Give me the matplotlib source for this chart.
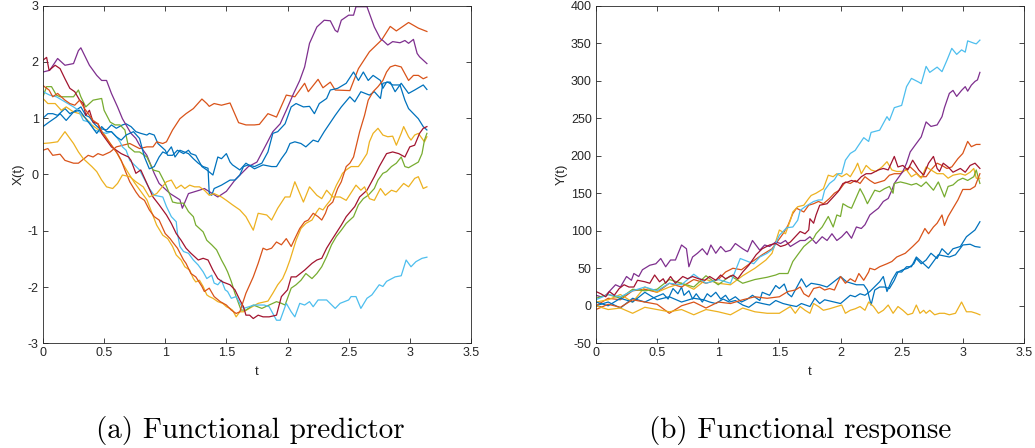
"""Two panels: functional predictor X(t) and functional response Y(t)."""
import matplotlib
matplotlib.use('Agg')
import matplotlib.pyplot as plt

plt.rcParams['axes.unicode_minus'] = False
plt.rcParams['font.family'] = ['Liberation Sans', 'DejaVu Sans']

# ---------------- (a) functional predictor X(t) ----------------
xt_blue1 = [0, .04, .08, .12, .18, .22, .27, .31, .35, .38, .42, .46, .52, .56, .6, .65, .68, .72, .76, .8,
            .85, .87, .91, .94, 1.0, 1.02, 1.06, 1.1, 1.15, 1.19, 1.21, 1.25, 1.3, 1.34, 1.39, 1.43, 1.46, 1.5,
            1.53, 1.55, 1.61, 1.66, 1.73, 1.8, 1.87, 1.91, 1.95, 1.99, 2.02, 2.06, 2.11, 2.15, 2.21, 2.25, 2.3,
            2.39, 2.44, 2.51, 2.55, 2.6, 2.67, 2.71, 2.76, 2.78, 2.82, 2.86, 2.92, 2.96, 2.99, 3.07, 3.11, 3.14]
x_blue1 = [1.0, 1.08, 1.08, 1.05, 1.17, 1.08, 1.14, 1.2, 1.05, 1.02, .9, .82, .79, .88, .82, .88, .9, .85, .76, .73,
           .7, .73, .7, .55, .43, .34, .34, .43, .37, .43, .37, .34, .14, .08, -.01, .31, .28, .37,
           .22, .17, .08, .2, .1, .17, .14, .14, .28, .4, .55, .58, .55, .49, .61, .58, .76,
           1.05, 1.2, 1.38, 1.29, 1.47, 1.41, 1.47, 1.35, 1.62, 1.64, 1.59, 1.59, 1.32, 1.17, .99, .85, .79]

xt_orange1 = [0, .04, .08, .14, .18, .25, .29, .33, .37, .41, .45, .49, .55, .6, .71, .79, .85, .9, .93, .98,
              1.01, 1.06, 1.12, 1.17, 1.23, 1.3, 1.34, 1.36, 1.4, 1.46, 1.53, 1.6, 1.66, 1.73, 1.77, 1.84, 1.91,
              1.99, 2.06, 2.14, 2.17, 2.25, 2.29, 2.35, 2.39, 2.51, 2.58, 2.67, 2.77, 2.84, 2.89, 2.99, 3.07, 3.14]
x_orange1 = [.43, .46, .34, .36, .25, .2, .2, .27, .34, .31, .37, .34, .4, .49, .55, .46, .49, .49, .58, .55,
             .58, .79, .99, 1.08, 1.17, 1.34, 1.26, 1.21, 1.26, 1.23, 1.27, .92, .88, .88, .89, 1.08, 1.02,
             1.41, 1.38, 1.62, 1.47, 1.69, 1.54, 1.64, 1.5, 1.49, 1.88, 2.18, 2.39, 2.63, 2.55, 2.7, 2.6, 2.54]

xt_yellow1 = [0, .04, .1, .15, .19, .25, .3, .35, .4, .45, .5, .55, .6, .65, .7, .75, .8, .85, .93, .98,
              1.02, 1.06, 1.09, 1.13, 1.16, 1.2, 1.23, 1.25, 1.28, 1.31, 1.34, 1.36, 1.39, 1.43, 1.47, 1.5, 1.53,
              1.55, 1.58, 1.61, 1.64, 1.76, 1.84, 1.88, 1.92, 1.96, 1.99, 2.02, 2.05, 2.07, 2.11, 2.15, 2.2, 2.24,
              2.26, 2.29, 2.32, 2.35, 2.37, 2.4, 2.43, 2.45, 2.48, 2.52, 2.58, 2.6, 2.65, 2.67, 2.7, 2.74, 2.78,
              2.82, 2.86, 2.89, 2.93, 2.95, 2.99, 3.01, 3.04, 3.07, 3.1, 3.12, 3.14]
x_yellow1 = [1.35, 1.26, 1.26, 1.14, 1.2, 1.11, 1.08, 1.0, .88, .8, .72, .55, .4, .2, .02, -.15, -.3, -.45, -.9, -1.08,
             -1.14, -1.28, -1.43, -1.52, -1.64, -1.7, -1.85, -1.91, -1.88, -1.99, -2.14, -2.17, -2.2, -2.26, -2.29,
             -2.35, -2.38, -2.41, -2.53, -2.44, -2.44, -2.29, -2.25, -2.11, -1.96, -1.85, -1.7, -1.52, -1.31, -1.17,
             -.96, -.87, -.81, -.66, -.6, -.63, -.54, -.46, -.34, -.19, -.07, .02, .08, .14, .14, .2, .37, .58, .73,
             .82, .7, .67, .68, .52, .73, .85, .67, .61, .7, .73, .64, .58, .67]

xt_purple = [0, .055, .12, .18, .25, .29, .31, .38, .44, .48, .52, .56, .61, .65, .72, .76, .79, .85, .91, .95,
             1.04, 1.12, 1.14, 1.19, 1.28, 1.32, 1.43, 1.5, 1.57, 1.68, 1.75, 1.83, 1.88, 1.94, 1.99, 2.05, 2.1,
             2.14, 2.18, 2.24, 2.3, 2.35, 2.39, 2.41, 2.44, 2.5, 2.54, 2.56, 2.65, 2.67, 2.71, 2.76, 2.78, 2.82,
             2.86, 2.92, 2.96, 2.99, 3.03, 3.06, 3.08, 3.14]
x_purple = [1.82, 1.85, 2.06, 1.94, 1.97, 2.2, 2.25, 1.94, 1.76, 1.67, 1.67, 1.44, 1.2, .99, .73, .64, .52, .34, .02, -.16,
            -.34, -.45, -.6, -.34, -.28, -.25, -.4, -.3, -.1, .14, .22, .55, .76, .9, 1.14, 1.44, 1.67,
            1.91, 2.33, 2.62, 2.74, 2.73, 2.56, 2.53, 2.74, 2.83, 2.83, 2.98, 2.98, 2.86, 2.62, 2.41, 2.38, 2.3,
            2.36, 2.34, 2.38, 2.33, 2.4, 2.15, 2.09, 1.97]

xt_green = [0, .03, .07, .11, .14, .18, .25, .29, .31, .35, .41, .48, .5, .55, .59, .63, .67, .7, .75, .79,
            .85, .9, .95, 1.0, 1.04, 1.06, 1.1, 1.15, 1.19, 1.23, 1.25, 1.31, 1.34, 1.38, 1.42, 1.46, 1.49, 1.51,
            1.54, 1.57, 1.6, 1.62, 1.66, 1.72, 1.79, 1.85, 1.91, 1.95, 1.98, 2.0, 2.03, 2.07, 2.11, 2.15, 2.2,
            2.24, 2.28, 2.32, 2.36, 2.4, 2.44, 2.48, 2.54, 2.58, 2.62, 2.66, 2.71, 2.74, 2.78, 2.81, 2.85, 2.89,
            2.93, 2.96, 2.99, 3.03, 3.07, 3.1, 3.12, 3.14]
x_green = [1.38, 1.56, 1.56, 1.41, 1.38, 1.38, 1.38, 1.5, 1.38, 1.2, 1.32, 1.35, 1.14, .93, .88, .88, .79, .49, .4, .4,
           .31, .08, .05, -.16, -.37, -.49, -.51, -.51, -.66, -.75, -.9, -1.02, -1.17, -1.25, -1.34, -1.52, -1.64,
           -1.73, -1.9, -2.11, -2.29, -2.41, -2.41, -2.32, -2.38, -2.32, -2.26, -2.29, -2.32, -2.2, -2.02, -1.96,
           -1.88, -1.76, -1.85, -1.76, -1.64, -1.46, -1.25, -1.1, -.99, -.87, -.75, -.54, -.43, -.37, -.25, -.1,
           .02, .05, .14, .2, .31, .14, .12, .17, .22, .37, .61, .73]

xt_lblue = [0, .055, .11, .18, .25, .29, .33, .38, .42, .46, .52, .56, .6, .63, .65, .68, .71, .79, .87, .91,
            .98, 1.01, 1.05, 1.09, 1.1, 1.12, 1.15, 1.19, 1.23, 1.27, 1.31, 1.34, 1.38, 1.4, 1.43, 1.46, 1.49,
            1.51, 1.54, 1.58, 1.61, 1.64, 1.73, 1.81, 1.85, 1.91, 1.94, 1.99, 2.03, 2.06, 2.1, 2.14, 2.18, 2.21,
            2.25, 2.32, 2.39, 2.43, 2.5, 2.52, 2.56, 2.6, 2.65, 2.69, 2.75, 2.78, 2.81, 2.88, 2.93, 2.97, 3.01,
            3.05, 3.1, 3.14]
x_lblue = [1.47, 1.41, 1.38, 1.29, 1.2, 1.14, .96, .93, .79, .76, .73, .76, .67, .58, .49, .43, .25, .08, -.25, -.37,
           -.4, -.57, -.75, -.84, -1.05, -1.28, -1.37, -1.4, -1.52, -1.61, -1.73, -1.85, -1.79, -1.93, -1.96, -1.88,
           -2.05, -2.08, -2.2, -2.17, -2.29, -2.38, -2.32, -2.32, -2.35, -2.59, -2.59, -2.29, -2.44, -2.53, -2.29,
           -2.32, -2.26, -2.35, -2.23, -2.23, -2.38, -2.29, -2.23, -2.17, -2.17, -2.38, -2.2, -2.14, -1.96, -1.99,
           -1.9, -1.82, -1.8, -1.52, -1.64, -1.55, -1.49, -1.47]

xt_dred = [0, .03, .05, .1, .14, .18, .22, .26, .3, .33, .35, .38, .41, .45, .48, .52, .56, .6, .64, .7,
           .72, .76, .8, .85, .9, .95, 1.01, 1.05, 1.09, 1.13, 1.17, 1.21, 1.27, 1.31, 1.35, 1.39, 1.43, 1.47,
           1.53, 1.57, 1.61, 1.64, 1.66, 1.69, 1.72, 1.76, 1.8, 1.85, 1.91, 1.95, 2.0, 2.03, 2.07, 2.14, 2.2,
           2.24, 2.28, 2.32, 2.36, 2.44, 2.48, 2.55, 2.59, 2.65, 2.71, 2.75, 2.81, 2.86, 2.91, 2.96, 3.0, 3.04,
           3.08, 3.11, 3.14]
x_dred = [2.03, 2.08, 1.85, 1.94, 1.88, 1.7, 1.53, 1.47, 1.32, 1.26, 1.05, 1.14, .93, .9, .73, .61, .49, .43, .37, .31,
          .25, .02, .08, -.16, -.4, -.54, -.72, -.87, -1.05, -1.17, -1.31, -1.4, -1.52, -1.49, -1.52, -1.7, -1.85,
          -1.91, -1.96, -2.05, -2.23, -2.35, -2.5, -2.5, -2.56, -2.5, -2.53, -2.53, -2.5, -2.17, -2.05, -1.82,
          -1.82, -1.7, -1.58, -1.52, -1.49, -1.31, -1.17, -.9, -.75, -.57, -.4, -.28, -.04, .14, .37, .4, .37,
          .31, .49, .52, .73, .82, .85]

xt_blue2 = [0, .05, .11, .14, .19, .25, .3, .35, .4, .44, .48, .52, .56, .6, .64, .68, .74, .79, .83, .87,
            .91, .95, .98, 1.01, 1.05, 1.08, 1.12, 1.19, 1.23, 1.27, 1.31, 1.35, 1.36, 1.38, 1.4, 1.43, 1.46,
            1.53, 1.57, 1.61, 1.64, 1.68, 1.73, 1.79, 1.84, 1.88, 1.92, 1.98, 2.03, 2.07, 2.13, 2.18, 2.22, 2.26,
            2.32, 2.35, 2.41, 2.48, 2.54, 2.58, 2.62, 2.66, 2.7, 2.76, 2.78, 2.81, 2.84, 2.88, 2.93, 2.99, 3.04,
            3.11, 3.14]
x_blue2 = [.85, .93, 1.02, 1.08, .96, 1.11, 1.14, .99, .85, .73, .85, .76, .76, .67, .61, .7, .76, .64, .31, .1,
           .14, .31, .4, .37, .49, .31, .43, .37, .28, .2, .14, .11, -.34, -.37, -.25, -.22, -.19,
           -.1, -.1, -.01, .14, .17, .14, .2, .4, .73, .76, .9, 1.2, 1.26, 1.2, 1.21, 1.08, 1.26,
           1.35, 1.5, 1.53, 1.62, 1.82, 1.67, 1.82, 1.67, 1.76, 1.67, 1.53, 1.64, 1.64, 1.47, 1.62, 1.44, 1.5,
           1.59, 1.51]

xt_orange2 = [0, .05, .08, .12, .18, .22, .26, .3, .34, .37, .41, .45, .49, .53, .57, .61, .64, .67, .71, .76,
              .79, .83, .87, .91, .95, 1.0, 1.04, 1.06, 1.1, 1.15, 1.17, 1.21, 1.25, 1.3, 1.32, 1.36, 1.4, 1.45,
              1.5, 1.54, 1.58, 1.61, 1.66, 1.72, 1.76, 1.8, 1.83, 1.87, 1.91, 1.95, 1.99, 2.03, 2.06, 2.1, 2.14,
              2.17, 2.21, 2.25, 2.28, 2.31, 2.33, 2.37, 2.41, 2.44, 2.48, 2.51, 2.54, 2.56, 2.59, 2.63, 2.66, 2.7,
              2.74, 2.78, 2.81, 2.84, 2.88, 2.93, 2.99, 3.03, 3.07, 3.11, 3.14]
x_orange2 = [1.58, 1.5, 1.38, 1.44, 1.32, 1.26, 1.23, 1.32, 1.17, 1.08, .96, .9, .73, .61, .49, .37, .25, .08, -.13, -.31,
             -.4, -.46, -.63, -.75, -.81, -1.05, -1.14, -1.2, -1.31, -1.52, -1.58, -1.76, -1.82, -1.99, -2.08, -2.02,
             -2.17, -2.26, -2.32, -2.41, -2.47, -2.44, -2.11, -1.82, -1.58, -1.31, -1.34, -1.31, -1.2, -1.25, -1.14,
             -1.28, -1.14, -.96, -.84, -.81, -.69, -.75, -.81, -.69, -.57, -.49, -.25, -.13, .14, .2, .31, .49, .76,
             1.05, 1.32, 1.47, 1.56, 1.67, 1.82, 1.91, 1.94, 1.91, 1.67, 1.76, 1.76, 1.7, 1.73]

xt_yellow2 = [0, .055, .12, .18, .25, .29, .33, .37, .4, .44, .48, .52, .57, .61, .65, .71, .76, .82, .87, .93,
              1.01, 1.05, 1.09, 1.13, 1.16, 1.2, 1.24, 1.28, 1.32, 1.36, 1.4, 1.46, 1.5, 1.55, 1.61, 1.66, 1.72,
              1.76, 1.83, 1.87, 1.92, 1.98, 2.02, 2.06, 2.13, 2.18, 2.24, 2.28, 2.32, 2.37, 2.43, 2.48, 2.56, 2.6,
              2.63, 2.67, 2.71, 2.76, 2.8, 2.85, 2.89, 2.95, 2.99, 3.04, 3.07, 3.11, 3.14]
x_yellow2 = [.55, .56, .58, .76, .55, .4, .28, .2, .14, .05, -.1, -.22, -.25, -.16, -.01, -.04, -.13, -.22, -.4, -.34,
             -.13, -.1, -.25, -.19, -.25, -.19, -.22, -.22, -.28, -.37, -.34, -.4, -.46, -.54, -.63, -.75, -.99,
             -.69, -.72, -.81, -.6, -.4, -.4, -.13, -.49, -.22, -.37, -.43, -.28, -.4, -.4, -.46, -.19, -.28,
             -.22, -.43, -.46, -.25, -.37, -.28, -.31, -.16, -.22, -.07, -.04, -.25, -.22]

# ---------------- (b) functional response Y(t) ----------------
yt_blue1 = [0, .1, .2, .3, .4, .49, .55, .59, .63, .67, .7, .72, .76, .79, .82, .87, .91, .94, .98, 1.02,
            1.06, 1.09, 1.14, 1.19, 1.24, 1.28, 1.34, 1.36, 1.42, 1.47, 1.5, 1.54, 1.57, 1.6, 1.68, 1.72,
            1.76, 1.83, 1.89, 2.0, 2.05, 2.09, 2.13, 2.19, 2.22, 2.25, 2.28, 2.32, 2.36, 2.4, 2.44, 2.47, 2.51,
            2.55, 2.6, 2.62, 2.66, 2.7, 2.74, 2.79, 2.83, 2.88, 2.92, 2.98, 3.03, 3.1, 3.14]
y_blue1 = [0, 5, -3, 10, 5, 12, 16, 9, 23, 16, 25, 14, 20, 9, 16, 5, 16, 12, 18, 9,
           14, 7, 12, 5, 9, 14, 7, 18, 14, 27, 23, 29, 16, 12, 36, 25,
           30, 28, 25, 39, 32, 30, 28, 28, 21, 1, 21, 25, 25, 23, 34, 45, 48,
           50, 56, 63, 56, 61, 70, 63, 76, 68, 76, 79, 92, 101, 112]

yt_orange1 = [0, .1, .2, .3, .4, .5, .6, .7, .8, .9, 1.0, 1.06, 1.12, 1.19, 1.24, 1.28, 1.36, 1.44, 1.49, 1.53,
              1.57, 1.61, 1.64, 1.7, 1.74, 1.78, 1.82, 1.86, 1.91, 1.95, 1.99, 2.04, 2.08, 2.12, 2.16, 2.2, 2.24,
              2.28, 2.32, 2.36, 2.4, 2.44, 2.49, 2.53, 2.57, 2.61, 2.65, 2.7, 2.74, 2.79, 2.83, 2.87, 2.91, 2.96,
              3.0, 3.04, 3.07, 3.11, 3.14]
y_orange1 = [0, 10, 8, 20, 22, 18, 30, 25, 35, 30, 35, 45, 50, 48, 54, 59, 68, 76, 87, 96,
             107, 123, 130, 125, 134, 136, 139, 136, 143, 150, 154, 165, 163, 167, 163, 172, 167,
             163, 165, 167, 174, 176, 176, 181, 185, 179, 172, 172, 181, 190, 187, 183, 185, 196,
             203, 219, 212, 215, 215]

yt_yellow1 = [0, .1, .2, .3, .4, .5, .6, .7, .8, .9, 1.0, 1.1, 1.2, 1.3, 1.39, 1.44, 1.5, 1.55, 1.59, 1.61,
              1.65, 1.7, 1.74, 1.76, 1.8, 1.86, 1.9, 1.94, 1.97, 2.01, 2.05, 2.08, 2.12, 2.14, 2.17, 2.21, 2.25,
              2.29, 2.34, 2.38, 2.42, 2.46, 2.5, 2.54, 2.58, 2.62, 2.66, 2.7, 2.74, 2.79, 2.84, 2.88, 2.92, 2.98,
              3.02, 3.06, 3.09, 3.11, 3.14]
y_yellow1 = [5, 8, 15, 5, 25, 18, 25, 30, 22, 35, 30, 28, 40, 50, 61, 70, 101, 96, 114, 125,
             132, 134, 143, 147, 150, 156, 174, 172, 176, 172, 176, 172, 183, 190, 176, 187, 181,
             179, 185, 192, 181, 179, 179, 181, 172, 176, 170, 185, 181, 176, 176, 170, 174, 176,
             174, 178, 183, 170, 170]

yt_purple = [0, .04, .08, .12, .16, .2, .25, .29, .31, .35, .38, .44, .49, .53, .57, .61, .65, .7, .74, .76,
             .79, .83, .87, .91, .94, .98, 1.02, 1.06, 1.1, 1.14, 1.2, 1.24, 1.28, 1.34, 1.38, 1.42, 1.47, 1.51,
             1.55, 1.59, 1.67, 1.71, 1.75, 1.8, 1.85, 1.89, 1.93, 1.97, 2.01, 2.05, 2.09, 2.13, 2.17, 2.2, 2.24,
             2.27, 2.31, 2.35, 2.39, 2.42, 2.44, 2.47, 2.51, 2.54, 2.57, 2.61, 2.66, 2.7, 2.74, 2.79, 2.83, 2.85,
             2.89, 2.92, 2.95, 2.99, 3.02, 3.04, 3.07, 3.1, 3.12, 3.14]
y_purple = [14, 12, 14, 21, 28, 25, 39, 34, 43, 39, 48, 54, 56, 63, 52, 61, 61, 81, 76, 52,
            65, 70, 76, 68, 81, 70, 79, 72, 74, 83, 76, 72, 87, 74, 81, 79, 85, 83,
            87, 79, 87, 87, 92, 83, 92, 87, 96, 87, 92, 99, 90, 105, 103, 108, 121,
            125, 130, 139, 143, 154, 163, 170, 179, 190, 205, 214, 225, 245, 239, 241, 252, 264,
            283, 287, 279, 287, 292, 286, 294, 299, 301, 311]

yt_green = [0, .1, .2, .3, .4, .5, .6, .7, .8, .9, 1.0, 1.1, 1.2, 1.3, 1.4, 1.47, 1.5, 1.57, 1.61, 1.65,
            1.7, 1.78, 1.8, 1.85, 1.9, 1.94, 1.97, 2.0, 2.02, 2.06, 2.09, 2.16, 2.19, 2.22, 2.25, 2.28, 2.32,
            2.36, 2.4, 2.43, 2.44, 2.49, 2.54, 2.58, 2.62, 2.66, 2.7, 2.76, 2.8, 2.85, 2.88, 2.92, 2.96, 3.0,
            3.04, 3.09, 3.11, 3.14]
y_green = [10, 15, 10, 22, 20, 22, 35, 30, 25, 40, 28, 40, 30, 35, 38, 41, 43, 43, 59, 68,
           79, 90, 96, 105, 119, 105, 121, 119, 136, 132, 130, 156, 147, 136, 145, 154, 152,
           156, 159, 150, 163, 165, 163, 161, 163, 159, 165, 154, 165, 145, 159, 161, 167, 170,
           167, 172, 181, 163]

yt_lblue = [0, .1, .2, .3, .4, .5, .6, .7, .8, .9, 1.0, 1.1, 1.18, 1.29, 1.34, 1.4, 1.45, 1.5, 1.56, 1.61,
            1.65, 1.67, 1.71, 1.78, 1.82, 1.85, 1.87, 1.91, 1.95, 1.98, 2.01, 2.04, 2.08, 2.12, 2.14, 2.19, 2.23,
            2.25, 2.32, 2.38, 2.4, 2.44, 2.5, 2.54, 2.58, 2.64, 2.66, 2.7, 2.73, 2.79, 2.83, 2.87, 2.91, 2.95,
            2.99, 3.02, 3.04, 3.09, 3.11, 3.14]
y_lblue = [8, 15, 12, 20, 25, 20, 30, 28, 42, 30, 35, 30, 63, 56, 65, 70, 76, 94, 104, 105,
           114, 127, 132, 139, 141, 141, 154, 163, 168, 176, 176, 194, 203, 207, 212, 224, 219,
           231, 234, 252, 247, 264, 267, 292, 303, 298, 296, 319, 311, 318, 312, 327, 343, 335,
           341, 338, 353, 350, 349, 354]

yt_dred = [0, .04, .08, .11, .15, .19, .23, .27, .31, .34, .4, .44, .48, .52, .55, .57, .61, .65, .71, .75,
           .79, .84, .89, .93, .98, 1.02, 1.06, 1.12, 1.16, 1.2, 1.25, 1.31, 1.36, 1.42, 1.47, 1.51, 1.55, 1.59,
           1.63, 1.67, 1.71, 1.74, 1.75, 1.78, 1.8, 1.83, 1.89, 1.93, 1.98, 2.02, 2.06, 2.09, 2.13, 2.17, 2.21,
           2.25, 2.31, 2.35, 2.39, 2.44, 2.47, 2.51, 2.55, 2.59, 2.64, 2.68, 2.72, 2.76, 2.79, 2.81, 2.84, 2.88,
           2.92, 2.98, 3.02, 3.06, 3.1, 3.14]
y_dred = [19, 16, 12, 19, 14, 23, 28, 25, 25, 34, 32, 30, 41, 32, 36, 30, 39, 30, 39, 36,
          39, 36, 34, 39, 34, 41, 36, 41, 36, 45, 54, 68, 76, 81, 83, 79, 81, 85,
          92, 99, 96, 101, 116, 110, 121, 134, 136, 143, 152, 163, 165, 167, 165, 172, 176,
          176, 181, 183, 181, 199, 185, 187, 181, 194, 181, 174, 190, 199, 183, 179, 190, 185,
          178, 183, 178, 187, 190, 183]

yt_blue2 = [0, .1, .2, .3, .4, .5, .6, .7, .8, .88, .93, .98, 1.04, 1.09, 1.14, 1.2, 1.25, 1.31, 1.36, 1.42,
            1.47, 1.53, 1.58, 1.64, 1.68, 1.75, 1.79, 1.83, 1.87, 2.0, 2.08, 2.12, 2.16, 2.2, 2.24, 2.32, 2.35,
            2.38, 2.42, 2.46, 2.5, 2.54, 2.58, 2.62, 2.66, 2.72, 2.76, 2.8, 2.89, 2.94, 3.0, 3.06, 3.1, 3.14]
y_blue2 = [5, 0, 10, 5, 18, 8, 12, 5, 10, 8, 5, 3, 9, 5, 7, 1, -2, 5, 3, 1,
           7, 3, 1, -1, 3, -1, 10, 3, 8, 3, 14, 12, 16, 14, 19, 32, 39,
           19, 34, 45, 45, 52, 52, 65, 59, 50, 59, 68, 65, 68, 81, 82, 79, 78]

yt_orange2 = [0, .1, .2, .3, .4, .5, .6, .7, .8, .9, 1.0, 1.1, 1.2, 1.3, 1.4, 1.5, 1.57, 1.63, 1.67, 1.7,
              1.74, 1.78, 1.83, 1.87, 1.91, 1.95, 2.0, 2.04, 2.08, 2.12, 2.15, 2.19, 2.23, 2.24, 2.28, 2.32, 2.38,
              2.42, 2.46, 2.53, 2.59, 2.64, 2.69, 2.72, 2.76, 2.79, 2.83, 2.85, 2.88, 2.92, 2.96, 3.0, 3.06, 3.1,
              3.14]
y_orange2 = [-5, 2, -2, 8, 5, 2, -10, 0, 5, -3, 5, 3, 8, 12, 10, 12, 19, 21, 25, 16,
             12, 23, 25, 21, 23, 21, 39, 30, 36, 32, 43, 34, 45, 50, 48, 52, 56,
             59, 65, 70, 79, 87, 103, 96, 105, 110, 121, 107, 119, 130, 141, 155, 155, 159,
             176]

yt_yellow2 = [0, .1, .2, .3, .4, .5, .6, .7, .8, .9, 1.0, 1.1, 1.2, 1.3, 1.4, 1.5, 1.59, 1.63, 1.67, 1.71,
              1.75, 1.78, 1.82, 1.86, 1.91, 1.97, 2.01, 2.04, 2.08, 2.12, 2.16, 2.2, 2.23, 2.27, 2.31, 2.35, 2.39,
              2.43, 2.47, 2.51, 2.55, 2.59, 2.62, 2.65, 2.68, 2.7, 2.73, 2.77, 2.81, 2.85, 2.89, 2.94, 2.99, 3.03,
              3.07, 3.11, 3.14]
y_yellow2 = [0, -5, -3, -10, -2, -5, -8, -5, -12, -5, -8, -12, -3, -8, -10, -10, -1, -10, -1, -6,
             -10, 3, -1, -6, -4, -1, 1, -10, -6, -4, -1, -6, 5, -1, -10, -6, 1,
             -10, -1, -6, -12, -10, 1, -10, -6, -10, -6, -12, -10, -10, -12, -10, 5, -8,
             -8, -10, -12]

# MATLAB default line order
colors = ['#0072BD', '#D95319', '#EDB120', '#7E2F8E', '#77AC30',
          '#4DBEEE', '#A2142F', '#0072BD', '#D95319', '#EDB120']
x_curves = [(xt_blue1, x_blue1), (xt_orange1, x_orange1), (xt_yellow1, x_yellow1), (xt_purple, x_purple),
            (xt_green, x_green), (xt_lblue, x_lblue), (xt_dred, x_dred), (xt_blue2, x_blue2),
            (xt_orange2, x_orange2), (xt_yellow2, x_yellow2)]
y_curves = [(yt_blue1, y_blue1), (yt_orange1, y_orange1), (yt_yellow1, y_yellow1), (yt_purple, y_purple),
            (yt_green, y_green), (yt_lblue, y_lblue), (yt_dred, y_dred), (yt_blue2, y_blue2),
            (yt_orange2, y_orange2), (yt_yellow2, y_yellow2)]

AX_COLOR = '#262626'

fig = plt.figure(figsize=(10.35, 4.48), dpi=100)
ax1 = fig.add_axes([0.0415, 0.2337, 0.4135, 0.7538])
ax2 = fig.add_axes([0.5758, 0.2337, 0.4135, 0.7538])


def style_axes(ax, yticks, ylabel):
    ax.set_xlim(0, 3.5)
    ax.set_xticks([0, 0.5, 1, 1.5, 2, 2.5, 3, 3.5])
    ax.set_xticklabels(['0', '0.5', '1', '1.5', '2', '2.5', '3', '3.5'])
    ax.set_ylim(yticks[0], yticks[-1])
    ax.set_yticks(yticks)
    ax.set_yticklabels([('%g' % v) for v in yticks])
    ax.tick_params(direction='in', top=True, right=True, length=3.5, width=0.6,
                   color=AX_COLOR, labelcolor=AX_COLOR, labelsize=9, pad=3)
    for sp in ax.spines.values():
        sp.set_color(AX_COLOR)
        sp.set_linewidth(0.6)
    ax.set_xlabel('t', fontsize=9.5, color=AX_COLOR, labelpad=5)
    ax.set_ylabel(ylabel, fontsize=9.5, color=AX_COLOR, labelpad=2)


for (tt, vals), c in zip(x_curves, colors):
    ax1.plot(tt, vals, color=c, lw=0.9)
for (tt, vals), c in zip(y_curves, colors):
    ax2.plot(tt, vals, color=c, lw=0.9)

style_axes(ax1, [-3, -2, -1, 0, 1, 2, 3], 'X(t)')
style_axes(ax2, [-50, 0, 50, 100, 150, 200, 250, 300, 350, 400], 'Y(t)')

# sub-figure captions
fig.text(0.2415, 0.04, '(a) Functional predictor', family='cmr10', fontsize=21,
         ha='center', va='center', color='black')
fig.text(0.7730, 0.04, '(b) Functional response', family='cmr10', fontsize=21,
         ha='center', va='center', color='black')

fig.savefig('out.png', dpi=100)
